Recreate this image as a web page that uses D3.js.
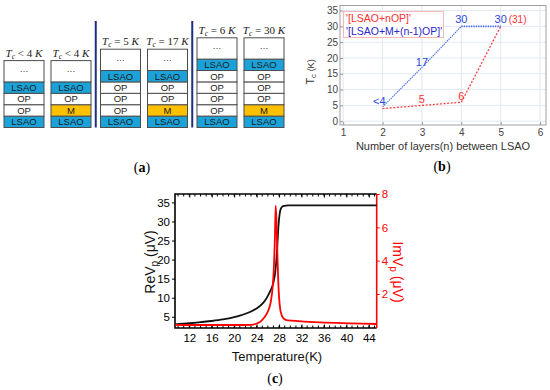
<!DOCTYPE html>
<html lang="en">
<head>
<meta charset="utf-8">
<title>LSAO layers and Tc</title>
<script src="https://d3js.org/d3.v7.min.js"></script>
<style>
  body { margin: 0; background: #fff; }
  text { font-family: "Liberation Sans", Arial, sans-serif; }
  .cap { font-family: "Liberation Serif", serif; font-size: 14px; }
  .math { font-family: "Liberation Serif", serif; font-size: 11px; }
</style>
</head>
<body>
<svg width="550" height="390"></svg>
<script>
    // ---- (a) layer stacks, bottom layer first
    var stackOps = ["<", "<", "=", "=", "=", "="];
    var stackTc = [4, 4, 5, 17, 6, 30];
    var stackLayers = [
        ["LSAO", "OP", "OP", "LSAO"],
        ["LSAO", "M", "OP", "LSAO"],
        ["LSAO", "OP", "OP", "OP", "LSAO"],
        ["LSAO", "M", "OP", "OP", "LSAO"],
        ["LSAO", "OP", "OP", "OP", "OP", "LSAO"],
        ["LSAO", "M", "OP", "OP", "OP", "LSAO"]
    ];

    // ---- (b) Tc vs number of layers
    var layersN = [2, 3, 4, 5];
    var tcOP = [4, 5, 6, 30];
    var tcM = [4.5, 17, 30, 30];
    var labelsOP = ["", "5", "6", ""];
    var labelsM = ["<4", "17", "30", "30"];
    var xTicksB = [1, 2, 3, 4, 5, 6];
    var yTicksB = [0, 5, 10, 15, 20, 25, 30, 35];

    // ---- (c) pickup voltage vs temperature
    var tempRe = [9.5, 12, 14, 16, 18, 20, 21, 22, 23, 24, 25, 25.5, 26, 26.5, 27, 27.3, 27.5, 27.7, 27.9, 28.1, 28.3, 28.6, 29, 29.5, 45.4];
    var reV = [3.0, 3.3, 3.6, 3.9, 4.3, 4.9, 5.3, 5.8, 6.4, 7.2, 8.4, 9.3, 10.5, 12.0, 14.0, 16.5, 19.5, 24, 29, 32, 33.3, 33.9, 34.1, 34.2, 34.2];
    var tempIm = [9.5, 12, 16, 20, 23, 23.8, 24.5, 25, 25.5, 26, 26.5, 26.9, 27.1, 27.25, 27.4, 27.55, 27.7, 27.85, 28.0, 28.2, 28.5, 28.9, 29.5, 45.4];
    var imV = [0.15, 0.14, 0.14, 0.14, 0.15, 0.2, 0.3, 0.45, 0.65, 0.95, 1.5, 2.6, 3.8, 5.3, 7.3, 6.2, 4.4, 2.8, 1.8, 1.1, 0.7, 0.5, 0.42, 0.2];
    var xTicksC = [12, 16, 20, 24, 28, 32, 36, 40, 44];
    var yTicksL = [5, 10, 15, 20, 25, 30, 35];
    var yTicksR = [2, 4, 6, 8];

    var svg = d3.select("svg");
    var fills = {LSAO: "#1ba3d9", OP: "#ffffff", M: "#ffc000"};

    // ================= (a)
    var ga = svg.append("g");
    var colW = 40, dotsH = 21.3;
    var groupX = d3.scaleLinear().domain([0, 2]).range([4, 197]);
    var rowY = d3.scaleLinear().domain([0, 6]).range([127.5, 59.1]);
    function colX(i) { return groupX(Math.floor(i / 2)) + (i % 2) * 47; }

    var stacks = ga.selectAll("g.stack")
        .data(stackLayers)
        .enter().append("g")
        .attr("class", "stack")
        .attr("transform", function(d, i) { return "translate(" + colX(i) + ",0)"; });

    var cells = stacks.selectAll("g.cell")
        .data(function(d) { return d; })
        .enter().append("g").attr("class", "cell");
    cells.append("rect")
        .attr("x", 0)
        .attr("y", function(d, j) { return rowY(j + 1); })
        .attr("width", colW)
        .attr("height", function(d, j) { return rowY(j) - rowY(j + 1); })
        .attr("fill", function(d) { return fills[d]; })
        .attr("stroke", "#4d4d4d")
        .attr("stroke-width", 1);
    cells.append("text")
        .attr("x", colW / 2)
        .attr("y", function(d, j) { return (rowY(j) + rowY(j + 1)) / 2; })
        .attr("dy", "0.36em")
        .attr("text-anchor", "middle")
        .style("font-size", "9.5px")
        .attr("fill", "#1a1a1a")
        .text(function(d) { return d; });

    // top "..." cell
    stacks.append("rect")
        .attr("x", 0)
        .attr("y", function(d) { return rowY(d.length) - dotsH; })
        .attr("width", colW)
        .attr("height", dotsH)
        .attr("fill", "#fff")
        .attr("stroke", "#4d4d4d");
    stacks.append("text")
        .attr("x", colW / 2)
        .attr("y", function(d) { return rowY(d.length) - dotsH / 2 + 1; })
        .attr("text-anchor", "middle")
        .style("font-size", "9px")
        .attr("fill", "#333")
        .text("…");

    // Tc labels
    var lab = stacks.append("text")
        .attr("class", "math")
        .attr("x", colW / 2)
        .attr("y", function(d) { return rowY(d.length) - dotsH - 4; })
        .attr("text-anchor", "middle")
        .attr("fill", "#222");
    lab.append("tspan").style("font-style", "italic").text("T");
    lab.append("tspan").style("font-style", "italic").style("font-size", "7.5px").attr("dy", 2).text("c");
    lab.append("tspan").attr("dy", -2).text(function(d, i) { return " " + stackOps[i] + " " + stackTc[i] + " "; });
    lab.append("tspan").style("font-style", "italic").text("K");

    // separators
    [0, 1].forEach(function(k) {
        var xs = (colX(2 * k + 1) + colW + colX(2 * k + 2)) / 2;
        ga.append("line")
            .attr("x1", xs).attr("x2", xs)
            .attr("y1", 21).attr("y2", 127.5)
            .attr("stroke", "#1c2f80")
            .attr("stroke-width", 2);
    });

    var capA = svg.append("text").attr("class", "cap").attr("x", 142).attr("y", 172).attr("text-anchor", "middle");
    capA.append("tspan").text("(");
    capA.append("tspan").style("font-weight", "bold").text("a");
    capA.append("tspan").text(")");

    // ================= (b)
    var gb = svg.append("g");
    var xB = d3.scaleLinear().domain([0.92, 6.15]).range([340, 546]);
    var yB = d3.scaleLinear().domain([-1.2, 36.6]).range([125, 5.5]);

    gb.selectAll("line.gx").data(xTicksB).enter().append("line")
        .attr("x1", function(d) { return xB(d); }).attr("x2", function(d) { return xB(d); })
        .attr("y1", yB.range()[0]).attr("y2", yB.range()[1])
        .attr("stroke", "#e2e8f2");
    gb.selectAll("line.gy").data(yTicksB).enter().append("line")
        .attr("y1", function(d) { return yB(d); }).attr("y2", function(d) { return yB(d); })
        .attr("x1", xB.range()[0]).attr("x2", xB.range()[1])
        .attr("stroke", "#e2e8f2");

    var axB = gb.append("g").attr("transform", "translate(0,125)")
        .call(d3.axisBottom(xB).tickValues(xTicksB).tickSize(-3).tickPadding(4).tickFormat(d3.format("d")));
    var ayB = gb.append("g").attr("transform", "translate(340,0)")
        .call(d3.axisLeft(yB).tickValues(yTicksB).tickSize(-3).tickPadding(2).tickFormat(d3.format("d")));
    [axB, ayB].forEach(function(a) {
        a.select(".domain").remove();
        a.selectAll("line").attr("stroke", "#999");
        a.selectAll("text").attr("fill", "#444").style("font-size", "10px").style("font-family", "Liberation Sans, Arial, sans-serif");
    });
    gb.append("rect")
        .attr("x", 340).attr("y", 5.5).attr("width", 206).attr("height", 119.5)
        .attr("fill", "none").attr("stroke", "#a0a0a0");

    var lineB = d3.line()
        .x(function(d) { return xB(d[0]); })
        .y(function(d) { return yB(d[1]); });
    var ptsOP = layersN.map(function(n, i) { return [n, tcOP[i]]; });
    var ptsM = layersN.map(function(n, i) { return [n, tcM[i]]; });
    gb.append("path").attr("d", lineB(ptsOP))
        .attr("fill", "none").attr("stroke", "#ff4040").attr("stroke-width", 1.3).attr("stroke-dasharray", "2,1.6");
    gb.append("path").attr("d", lineB(ptsM.slice(0, 3)))
        .attr("fill", "none").attr("stroke", "#4a6cf0").attr("stroke-width", 1.1).attr("stroke-dasharray", "1.5,0.8");
    gb.append("path").attr("d", lineB(ptsM.slice(2)))
        .attr("fill", "none").attr("stroke", "#4a6cf0").attr("stroke-width", 1.6).attr("stroke-dasharray", "1.4,1");

    gb.selectAll("text.lm").data(ptsM).enter().append("text")
        .attr("x", function(d, i) { return xB(d[0]) + (i === 0 ? 3 : 0); })
        .attr("y", function(d, i) { return yB(d[1]) - (i === 0 ? 2 : (i === 1 ? 1 : 3)); })
        .attr("text-anchor", function(d, i) { return i === 0 ? "end" : "middle"; })
        .attr("fill", "#2846e0")
        .style("font-size", "11px")
        .text(function(d, i) { return labelsM[i]; });
    gb.selectAll("text.lo").data(ptsOP).enter().append("text")
        .attr("x", function(d) { return xB(d[0]); })
        .attr("y", function(d) { return yB(d[1]) - 2; })
        .attr("text-anchor", "middle")
        .attr("fill", "#ff3030")
        .style("font-size", "11px")
        .text(function(d, i) { return labelsOP[i]; });
    gb.append("text")
        .attr("x", xB(5) + 8).attr("y", yB(30) - 3)
        .attr("fill", "#ff3030")
        .style("font-size", "10px")
        .text("(" + 31 + ")");

    // legend
    gb.append("rect")
        .attr("x", 343.5).attr("y", 11.5).attr("width", 100).attr("height", 26)
        .attr("fill", "#fff").attr("stroke", "#f4b8b8");
    gb.append("text").attr("x", 346).attr("y", 22).attr("fill", "#ff3030").style("font-size", "10.5px").text("'[LSAO+nOP]'");
    gb.append("text").attr("x", 346).attr("y", 35).attr("fill", "#2828c8").style("font-size", "10.5px").text("'[LSAO+M+(n-1)OP]'");

    gb.append("text")
        .attr("x", 443).attr("y", 150)
        .attr("text-anchor", "middle")
        .attr("fill", "#333")
        .style("font-size", "11px")
        .text("Number of layers(n) between LSAO");
    var tcT = gb.append("text")
        .attr("transform", "translate(314,72) rotate(-90)")
        .attr("text-anchor", "middle")
        .attr("fill", "#333")
        .style("font-size", "11px");
    tcT.append("tspan").text("T");
    tcT.append("tspan").style("font-size", "8px").attr("dy", 2).text("c");
    tcT.append("tspan").style("font-size", "9px").attr("dy", -2).text(" (K)");

    var capB = svg.append("text").attr("class", "cap").attr("x", 442).attr("y", 171).attr("text-anchor", "middle");
    capB.append("tspan").text("(");
    capB.append("tspan").style("font-weight", "bold").text("b");
    capB.append("tspan").text(")");

    // ================= (c)
    var gc = svg.append("g");
    var xC = d3.scaleLinear().domain([9.45, 45.4]).range([175, 376.7]);
    var yL = d3.scaleLinear().domain([2.06, 37.2]).range([328, 194]);
    var yR = d3.scaleLinear().domain([-0.04, 8]).range([328, 194]);

    var minorX = d3.range(10, 46, 1);
    gc.selectAll("line.mb").data(minorX).enter().append("line")
        .attr("x1", function(d) { return xC(d); }).attr("x2", function(d) { return xC(d); })
        .attr("y1", 328).attr("y2", 325.5).attr("stroke", "#000");
    gc.selectAll("line.mt").data(minorX).enter().append("line")
        .attr("x1", function(d) { return xC(d); }).attr("x2", function(d) { return xC(d); })
        .attr("y1", 194).attr("y2", 196.5).attr("stroke", "#000");

    var axC = gc.append("g").attr("transform", "translate(0,328)")
        .call(d3.axisBottom(xC).tickValues(xTicksC).tickSize(-3.5).tickPadding(6));
    var axT = gc.append("g").attr("transform", "translate(0,194)")
        .call(d3.axisTop(xC).tickValues(xTicksC).tickSize(-3.5).tickFormat(""));
    var ayL = gc.append("g").attr("transform", "translate(175,0)")
        .call(d3.axisLeft(yL).tickValues(yTicksL).tickSize(3).tickPadding(2));
    var ayR = gc.append("g").attr("transform", "translate(376.7,0)")
        .call(d3.axisRight(yR).tickValues(yTicksR).tickSize(3).tickPadding(2));
    [axC, axT, ayL, ayR].forEach(function(a) {
        a.select(".domain").remove();
        a.selectAll("text").style("font-size", "11.5px").style("font-family", "Liberation Sans, Arial, sans-serif");
    });
    ayR.selectAll("line").attr("stroke", "#ff0000");
    ayR.selectAll("text").attr("fill", "#ff0000");

    gc.append("path")
        .attr("d", "M" + 376.7 + ",194H175V328H376.7")
        .attr("fill", "none").attr("stroke", "#000").attr("stroke-width", 1.6);
    gc.append("line")
        .attr("x1", 376.7).attr("x2", 376.7).attr("y1", 194).attr("y2", 328)
        .attr("stroke", "#ff0000").attr("stroke-width", 1.6);

    var lineRe = d3.line().curve(d3.curveMonotoneX)
        .x(function(d, i) { return xC(tempRe[i]); })
        .y(function(d) { return yL(d); });
    var lineIm = d3.line().curve(d3.curveMonotoneX)
        .x(function(d, i) { return xC(tempIm[i]); })
        .y(function(d) { return yR(d); });
    gc.append("path").attr("d", lineRe(reV)).attr("fill", "none").attr("stroke", "#111").attr("stroke-width", 1.8);
    gc.append("path").attr("d", lineIm(imV)).attr("fill", "none").attr("stroke", "#ff0000").attr("stroke-width", 1.8);

    gc.append("text")
        .attr("x", 277).attr("y", 361)
        .attr("text-anchor", "middle")
        .style("font-size", "13px")
        .attr("fill", "#111")
        .text("Temperature(K)");
    var reT = gc.append("text")
        .attr("transform", "translate(155,262) rotate(-90)")
        .attr("text-anchor", "middle")
        .style("font-size", "14px")
        .attr("fill", "#111");
    reT.append("tspan").text("ReV");
    reT.append("tspan").style("font-size", "10px").attr("dy", 3).text("p");
    reT.append("tspan").attr("dy", -3).text(" (μV)");
    var imT = gc.append("text")
        .attr("transform", "translate(393,272) rotate(90)")
        .attr("text-anchor", "middle")
        .style("font-size", "14px")
        .attr("fill", "#ff0000");
    imT.append("tspan").text("ImV");
    imT.append("tspan").style("font-size", "10px").attr("dy", 3).text("p");
    imT.append("tspan").attr("dy", -3).text(" (μV)");

    var capC = svg.append("text").attr("class", "cap").attr("x", 275).attr("y", 383).attr("text-anchor", "middle");
    capC.append("tspan").text("(");
    capC.append("tspan").style("font-weight", "bold").text("c");
    capC.append("tspan").text(")");
</script>
</body>
</html>
